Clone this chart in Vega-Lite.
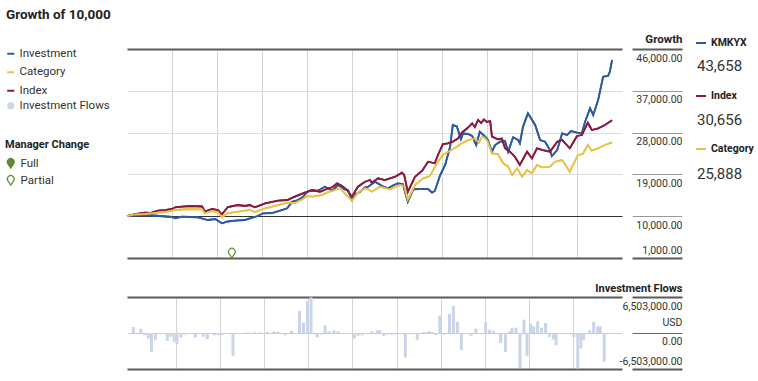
{
  "$schema": "https://vega.github.io/schema/vega-lite/v6.json",
  "autosize": {"type": "none"},
  "padding": {"left": 127, "top": 49, "right": 631, "bottom": 332},
  "background": "white",
  "config": {
    "font": "Roboto, 'Liberation Sans', sans-serif",
    "view": {"stroke": null},
    "concat": {"spacing": 21}
  },
  "title": {"text": "Growth of 10,000", "anchor": "start", "frame": "group", "fontSize": 13.5, "fontWeight": "bold", "color": "#222222", "dx": -121, "dy": -8},
  "datasets": {
    "summary": [
      {"series": "Investment", "ticker": "KMKYX", "final": 43658},
      {"series": "Index", "ticker": "Index", "final": 30656},
      {"series": "Category", "ticker": "Category", "final": 25888}
    ],
    "managers": [{"t": 2.33, "change": "Partial"}],
    "lines": [
      {"series": "Investment", "t": 0, "value": 10000},
      {"series": "Investment", "t": 0.29, "value": 10260},
      {"series": "Investment", "t": 0.51, "value": 10200},
      {"series": "Investment", "t": 0.73, "value": 10040},
      {"series": "Investment", "t": 1.0, "value": 9830},
      {"series": "Investment", "t": 1.07, "value": 9550},
      {"series": "Investment", "t": 1.22, "value": 9890},
      {"series": "Investment", "t": 1.4, "value": 9830},
      {"series": "Investment", "t": 1.58, "value": 9760},
      {"series": "Investment", "t": 1.8, "value": 9180},
      {"series": "Investment", "t": 1.96, "value": 9400},
      {"series": "Investment", "t": 2.11, "value": 8470},
      {"series": "Investment", "t": 2.24, "value": 8860},
      {"series": "Investment", "t": 2.4, "value": 9030},
      {"series": "Investment", "t": 2.62, "value": 9180},
      {"series": "Investment", "t": 2.73, "value": 9550},
      {"series": "Investment", "t": 2.91, "value": 10040},
      {"series": "Investment", "t": 3.02, "value": 10620},
      {"series": "Investment", "t": 3.22, "value": 10690},
      {"series": "Investment", "t": 3.44, "value": 11330},
      {"series": "Investment", "t": 3.56, "value": 11700},
      {"series": "Investment", "t": 3.67, "value": 13120},
      {"series": "Investment", "t": 3.8, "value": 13490},
      {"series": "Investment", "t": 3.91, "value": 14130},
      {"series": "Investment", "t": 4.0, "value": 15270},
      {"series": "Investment", "t": 4.11, "value": 15430},
      {"series": "Investment", "t": 4.24, "value": 15490},
      {"series": "Investment", "t": 4.4, "value": 16350},
      {"series": "Investment", "t": 4.56, "value": 15490},
      {"series": "Investment", "t": 4.69, "value": 16720},
      {"series": "Investment", "t": 4.84, "value": 15790},
      {"series": "Investment", "t": 4.91, "value": 15640},
      {"series": "Investment", "t": 5.0, "value": 13490},
      {"series": "Investment", "t": 5.09, "value": 14780},
      {"series": "Investment", "t": 5.18, "value": 15270},
      {"series": "Investment", "t": 5.29, "value": 16220},
      {"series": "Investment", "t": 5.36, "value": 16350},
      {"series": "Investment", "t": 5.51, "value": 17430},
      {"series": "Investment", "t": 5.67, "value": 16500},
      {"series": "Investment", "t": 5.8, "value": 16010},
      {"series": "Investment", "t": 5.93, "value": 16720},
      {"series": "Investment", "t": 6.02, "value": 17080},
      {"series": "Investment", "t": 6.13, "value": 16930},
      {"series": "Investment", "t": 6.24, "value": 13120},
      {"series": "Investment", "t": 6.36, "value": 15790},
      {"series": "Investment", "t": 6.47, "value": 15860},
      {"series": "Investment", "t": 6.56, "value": 15860},
      {"series": "Investment", "t": 6.69, "value": 15860},
      {"series": "Investment", "t": 6.78, "value": 15060},
      {"series": "Investment", "t": 6.84, "value": 15430},
      {"series": "Investment", "t": 6.96, "value": 18870},
      {"series": "Investment", "t": 7.07, "value": 21020},
      {"series": "Investment", "t": 7.18, "value": 24960},
      {"series": "Investment", "t": 7.24, "value": 29640},
      {"series": "Investment", "t": 7.33, "value": 29310},
      {"series": "Investment", "t": 7.42, "value": 26620},
      {"series": "Investment", "t": 7.47, "value": 27810},
      {"series": "Investment", "t": 7.58, "value": 27700},
      {"series": "Investment", "t": 7.67, "value": 27270},
      {"series": "Investment", "t": 7.76, "value": 25330},
      {"series": "Investment", "t": 7.84, "value": 28190},
      {"series": "Investment", "t": 7.96, "value": 27120},
      {"series": "Investment", "t": 8.02, "value": 26410},
      {"series": "Investment", "t": 8.11, "value": 23890},
      {"series": "Investment", "t": 8.18, "value": 25330},
      {"series": "Investment", "t": 8.29, "value": 26040},
      {"series": "Investment", "t": 8.4, "value": 26190},
      {"series": "Investment", "t": 8.47, "value": 23890},
      {"series": "Investment", "t": 8.58, "value": 26990},
      {"series": "Investment", "t": 8.69, "value": 26410},
      {"series": "Investment", "t": 8.73, "value": 25700},
      {"series": "Investment", "t": 8.8, "value": 29270},
      {"series": "Investment", "t": 8.91, "value": 32150},
      {"series": "Investment", "t": 9.07, "value": 29640},
      {"series": "Investment", "t": 9.18, "value": 26410},
      {"series": "Investment", "t": 9.29, "value": 26040},
      {"series": "Investment", "t": 9.4, "value": 24250},
      {"series": "Investment", "t": 9.44, "value": 22960},
      {"series": "Investment", "t": 9.56, "value": 24250},
      {"series": "Investment", "t": 9.67, "value": 27850},
      {"series": "Investment", "t": 9.78, "value": 27480},
      {"series": "Investment", "t": 9.87, "value": 28340},
      {"series": "Investment", "t": 10.0, "value": 27980},
      {"series": "Investment", "t": 10.11, "value": 27910},
      {"series": "Investment", "t": 10.18, "value": 30350},
      {"series": "Investment", "t": 10.29, "value": 33230},
      {"series": "Investment", "t": 10.36, "value": 31790},
      {"series": "Investment", "t": 10.47, "value": 35020},
      {"series": "Investment", "t": 10.58, "value": 40030},
      {"series": "Investment", "t": 10.69, "value": 40190},
      {"series": "Investment", "t": 10.73, "value": 41110},
      {"series": "Investment", "t": 10.78, "value": 43658},
      {"series": "Index", "t": 0, "value": 10000},
      {"series": "Index", "t": 0.18, "value": 10470},
      {"series": "Index", "t": 0.4, "value": 10750},
      {"series": "Index", "t": 0.51, "value": 10690},
      {"series": "Index", "t": 0.69, "value": 11180},
      {"series": "Index", "t": 0.84, "value": 11330},
      {"series": "Index", "t": 1.0, "value": 11550},
      {"series": "Index", "t": 1.07, "value": 11920},
      {"series": "Index", "t": 1.22, "value": 12050},
      {"series": "Index", "t": 1.44, "value": 12200},
      {"series": "Index", "t": 1.67, "value": 12090},
      {"series": "Index", "t": 1.73, "value": 10970},
      {"series": "Index", "t": 1.89, "value": 11550},
      {"series": "Index", "t": 2.02, "value": 11330},
      {"series": "Index", "t": 2.11, "value": 10410},
      {"series": "Index", "t": 2.24, "value": 11980},
      {"series": "Index", "t": 2.47, "value": 12410},
      {"series": "Index", "t": 2.62, "value": 12200},
      {"series": "Index", "t": 2.73, "value": 12410},
      {"series": "Index", "t": 2.84, "value": 11920},
      {"series": "Index", "t": 3.07, "value": 12780},
      {"series": "Index", "t": 3.36, "value": 13340},
      {"series": "Index", "t": 3.56, "value": 13490},
      {"series": "Index", "t": 3.73, "value": 14200},
      {"series": "Index", "t": 3.91, "value": 14930},
      {"series": "Index", "t": 4.11, "value": 15640},
      {"series": "Index", "t": 4.29, "value": 15270},
      {"series": "Index", "t": 4.44, "value": 15860},
      {"series": "Index", "t": 4.56, "value": 16220},
      {"series": "Index", "t": 4.67, "value": 17080},
      {"series": "Index", "t": 4.78, "value": 16500},
      {"series": "Index", "t": 4.89, "value": 15640},
      {"series": "Index", "t": 5.0, "value": 14200},
      {"series": "Index", "t": 5.13, "value": 16350},
      {"series": "Index", "t": 5.29, "value": 17430},
      {"series": "Index", "t": 5.4, "value": 17790},
      {"series": "Index", "t": 5.44, "value": 17210},
      {"series": "Index", "t": 5.58, "value": 18160},
      {"series": "Index", "t": 5.73, "value": 17790},
      {"series": "Index", "t": 5.96, "value": 18500},
      {"series": "Index", "t": 6.11, "value": 19370},
      {"series": "Index", "t": 6.16, "value": 18870},
      {"series": "Index", "t": 6.24, "value": 15210},
      {"series": "Index", "t": 6.4, "value": 18500},
      {"series": "Index", "t": 6.56, "value": 19800},
      {"series": "Index", "t": 6.69, "value": 21730},
      {"series": "Index", "t": 6.84, "value": 21390},
      {"series": "Index", "t": 6.91, "value": 23180},
      {"series": "Index", "t": 7.02, "value": 25540},
      {"series": "Index", "t": 7.13, "value": 25700},
      {"series": "Index", "t": 7.24, "value": 26040},
      {"series": "Index", "t": 7.36, "value": 26770},
      {"series": "Index", "t": 7.44, "value": 27980},
      {"series": "Index", "t": 7.56, "value": 28930},
      {"series": "Index", "t": 7.67, "value": 30000},
      {"series": "Index", "t": 7.73, "value": 29200},
      {"series": "Index", "t": 7.8, "value": 30710},
      {"series": "Index", "t": 7.87, "value": 30070},
      {"series": "Index", "t": 7.93, "value": 30820},
      {"series": "Index", "t": 8.0, "value": 30280},
      {"series": "Index", "t": 8.07, "value": 30500},
      {"series": "Index", "t": 8.11, "value": 27120},
      {"series": "Index", "t": 8.24, "value": 26560},
      {"series": "Index", "t": 8.33, "value": 26730},
      {"series": "Index", "t": 8.4, "value": 24620},
      {"series": "Index", "t": 8.51, "value": 23890},
      {"series": "Index", "t": 8.62, "value": 22810},
      {"series": "Index", "t": 8.73, "value": 21020},
      {"series": "Index", "t": 8.89, "value": 23890},
      {"series": "Index", "t": 9.0, "value": 22470},
      {"series": "Index", "t": 9.11, "value": 24620},
      {"series": "Index", "t": 9.24, "value": 24250},
      {"series": "Index", "t": 9.4, "value": 23890},
      {"series": "Index", "t": 9.56, "value": 26040},
      {"series": "Index", "t": 9.67, "value": 26410},
      {"series": "Index", "t": 9.84, "value": 24620},
      {"series": "Index", "t": 10.0, "value": 27270},
      {"series": "Index", "t": 10.11, "value": 27480},
      {"series": "Index", "t": 10.24, "value": 30130},
      {"series": "Index", "t": 10.33, "value": 28560},
      {"series": "Index", "t": 10.47, "value": 28930},
      {"series": "Index", "t": 10.62, "value": 29640},
      {"series": "Index", "t": 10.78, "value": 30656},
      {"series": "Category", "t": 0, "value": 10000},
      {"series": "Category", "t": 0.18, "value": 10370},
      {"series": "Category", "t": 0.4, "value": 10470},
      {"series": "Category", "t": 0.69, "value": 10750},
      {"series": "Category", "t": 0.84, "value": 10900},
      {"series": "Category", "t": 1.07, "value": 11330},
      {"series": "Category", "t": 1.22, "value": 11440},
      {"series": "Category", "t": 1.44, "value": 11550},
      {"series": "Category", "t": 1.67, "value": 11490},
      {"series": "Category", "t": 1.73, "value": 10620},
      {"series": "Category", "t": 1.89, "value": 11120},
      {"series": "Category", "t": 2.02, "value": 10900},
      {"series": "Category", "t": 2.11, "value": 9760},
      {"series": "Category", "t": 2.24, "value": 10690},
      {"series": "Category", "t": 2.47, "value": 10970},
      {"series": "Category", "t": 2.62, "value": 11180},
      {"series": "Category", "t": 2.73, "value": 11330},
      {"series": "Category", "t": 2.84, "value": 10900},
      {"series": "Category", "t": 3.07, "value": 11700},
      {"series": "Category", "t": 3.36, "value": 12410},
      {"series": "Category", "t": 3.56, "value": 12910},
      {"series": "Category", "t": 3.73, "value": 12840},
      {"series": "Category", "t": 3.91, "value": 13700},
      {"series": "Category", "t": 4.0, "value": 14350},
      {"series": "Category", "t": 4.11, "value": 14200},
      {"series": "Category", "t": 4.33, "value": 14560},
      {"series": "Category", "t": 4.44, "value": 15060},
      {"series": "Category", "t": 4.62, "value": 15640},
      {"series": "Category", "t": 4.73, "value": 16070},
      {"series": "Category", "t": 4.84, "value": 14930},
      {"series": "Category", "t": 5.0, "value": 13340},
      {"series": "Category", "t": 5.13, "value": 15060},
      {"series": "Category", "t": 5.29, "value": 16010},
      {"series": "Category", "t": 5.36, "value": 15790},
      {"series": "Category", "t": 5.44, "value": 15270},
      {"series": "Category", "t": 5.62, "value": 16350},
      {"series": "Category", "t": 5.84, "value": 15790},
      {"series": "Category", "t": 6.07, "value": 16720},
      {"series": "Category", "t": 6.16, "value": 16500},
      {"series": "Category", "t": 6.24, "value": 13490},
      {"series": "Category", "t": 6.4, "value": 16720},
      {"series": "Category", "t": 6.58, "value": 18160},
      {"series": "Category", "t": 6.73, "value": 18660},
      {"series": "Category", "t": 6.89, "value": 21390},
      {"series": "Category", "t": 7.02, "value": 23180},
      {"series": "Category", "t": 7.18, "value": 24100},
      {"series": "Category", "t": 7.33, "value": 24960},
      {"series": "Category", "t": 7.44, "value": 25700},
      {"series": "Category", "t": 7.56, "value": 26260},
      {"series": "Category", "t": 7.67, "value": 26620},
      {"series": "Category", "t": 7.73, "value": 26770},
      {"series": "Category", "t": 7.82, "value": 25820},
      {"series": "Category", "t": 7.89, "value": 27120},
      {"series": "Category", "t": 7.96, "value": 26770},
      {"series": "Category", "t": 8.02, "value": 26040},
      {"series": "Category", "t": 8.11, "value": 23540},
      {"series": "Category", "t": 8.24, "value": 23390},
      {"series": "Category", "t": 8.36, "value": 21390},
      {"series": "Category", "t": 8.47, "value": 20660},
      {"series": "Category", "t": 8.56, "value": 18870},
      {"series": "Category", "t": 8.67, "value": 20310},
      {"series": "Category", "t": 8.78, "value": 18500},
      {"series": "Category", "t": 8.89, "value": 19950},
      {"series": "Category", "t": 9.0, "value": 19240},
      {"series": "Category", "t": 9.11, "value": 21020},
      {"series": "Category", "t": 9.22, "value": 20530},
      {"series": "Category", "t": 9.4, "value": 20660},
      {"series": "Category", "t": 9.51, "value": 21730},
      {"series": "Category", "t": 9.67, "value": 22100},
      {"series": "Category", "t": 9.84, "value": 19580},
      {"series": "Category", "t": 10.02, "value": 23180},
      {"series": "Category", "t": 10.13, "value": 23390},
      {"series": "Category", "t": 10.24, "value": 25330},
      {"series": "Category", "t": 10.33, "value": 24100},
      {"series": "Category", "t": 10.47, "value": 24620},
      {"series": "Category", "t": 10.62, "value": 25330},
      {"series": "Category", "t": 10.78, "value": 25888}
    ],
    "flows": [
      {"series": "Investment Flows", "t": 0.03, "flow": 1070000}, {"series": "Investment Flows", "t": 0.2, "flow": 770000}, {"series": "Investment Flows", "t": 0.29, "flow": -400000},
      {"series": "Investment Flows", "t": 0.37, "flow": -1000000}, {"series": "Investment Flows", "t": 0.44, "flow": -3400000}, {"series": "Investment Flows", "t": 0.53, "flow": -1300000},
      {"series": "Investment Flows", "t": 0.62, "flow": -200000}, {"series": "Investment Flows", "t": 0.8, "flow": -1400000}, {"series": "Investment Flows", "t": 0.88, "flow": -700000},
      {"series": "Investment Flows", "t": 0.96, "flow": -1600000}, {"series": "Investment Flows", "t": 1.02, "flow": -2000000}, {"series": "Investment Flows", "t": 1.11, "flow": -800000},
      {"series": "Investment Flows", "t": 1.2, "flow": -300000}, {"series": "Investment Flows", "t": 1.29, "flow": -200000}, {"series": "Investment Flows", "t": 1.44, "flow": -800000},
      {"series": "Investment Flows", "t": 1.53, "flow": -200000}, {"series": "Investment Flows", "t": 1.62, "flow": -700000}, {"series": "Investment Flows", "t": 1.71, "flow": -1100000},
      {"series": "Investment Flows", "t": 1.87, "flow": -400000}, {"series": "Investment Flows", "t": 1.96, "flow": -400000}, {"series": "Investment Flows", "t": 2.04, "flow": -400000},
      {"series": "Investment Flows", "t": 2.29, "flow": -4150000}, {"series": "Investment Flows", "t": 2.44, "flow": -100000}, {"series": "Investment Flows", "t": 2.62, "flow": 100000},
      {"series": "Investment Flows", "t": 2.78, "flow": 150000}, {"series": "Investment Flows", "t": 2.91, "flow": 100000}, {"series": "Investment Flows", "t": 3.07, "flow": 200000},
      {"series": "Investment Flows", "t": 3.22, "flow": 300000}, {"series": "Investment Flows", "t": 3.31, "flow": 200000}, {"series": "Investment Flows", "t": 3.47, "flow": -400000},
      {"series": "Investment Flows", "t": 3.62, "flow": 400000}, {"series": "Investment Flows", "t": 3.8, "flow": 4000000}, {"series": "Investment Flows", "t": 3.89, "flow": 1850000},
      {"series": "Investment Flows", "t": 3.98, "flow": 5800000}, {"series": "Investment Flows", "t": 4.06, "flow": 6450000}, {"series": "Investment Flows", "t": 4.2, "flow": -800000},
      {"series": "Investment Flows", "t": 4.29, "flow": -300000}, {"series": "Investment Flows", "t": 4.38, "flow": 1400000}, {"series": "Investment Flows", "t": 4.47, "flow": 300000},
      {"series": "Investment Flows", "t": 4.58, "flow": 500000}, {"series": "Investment Flows", "t": 4.67, "flow": 300000}, {"series": "Investment Flows", "t": 4.84, "flow": -200000},
      {"series": "Investment Flows", "t": 4.96, "flow": -200000}, {"series": "Investment Flows", "t": 5.04, "flow": -1000000}, {"series": "Investment Flows", "t": 5.13, "flow": -500000},
      {"series": "Investment Flows", "t": 5.22, "flow": -400000}, {"series": "Investment Flows", "t": 5.31, "flow": -200000}, {"series": "Investment Flows", "t": 5.44, "flow": 300000},
      {"series": "Investment Flows", "t": 5.56, "flow": 500000}, {"series": "Investment Flows", "t": 5.62, "flow": 500000}, {"series": "Investment Flows", "t": 5.71, "flow": -600000},
      {"series": "Investment Flows", "t": 5.8, "flow": -300000}, {"series": "Investment Flows", "t": 5.89, "flow": -300000}, {"series": "Investment Flows", "t": 5.98, "flow": -300000},
      {"series": "Investment Flows", "t": 6.2, "flow": -4450000}, {"series": "Investment Flows", "t": 6.31, "flow": -200000}, {"series": "Investment Flows", "t": 6.47, "flow": -1300000},
      {"series": "Investment Flows", "t": 6.62, "flow": 200000}, {"series": "Investment Flows", "t": 6.73, "flow": 300000}, {"series": "Investment Flows", "t": 6.8, "flow": 200000},
      {"series": "Investment Flows", "t": 6.89, "flow": -400000}, {"series": "Investment Flows", "t": 6.98, "flow": 3150000}, {"series": "Investment Flows", "t": 7.07, "flow": -300000},
      {"series": "Investment Flows", "t": 7.2, "flow": 3450000}, {"series": "Investment Flows", "t": 7.29, "flow": 4900000}, {"series": "Investment Flows", "t": 7.38, "flow": 2000000},
      {"series": "Investment Flows", "t": 7.47, "flow": -3100000}, {"series": "Investment Flows", "t": 7.56, "flow": -100000}, {"series": "Investment Flows", "t": 7.69, "flow": -500000},
      {"series": "Investment Flows", "t": 7.8, "flow": 800000}, {"series": "Investment Flows", "t": 8.02, "flow": 2000000}, {"series": "Investment Flows", "t": 8.11, "flow": 600000},
      {"series": "Investment Flows", "t": 8.2, "flow": 400000}, {"series": "Investment Flows", "t": 8.29, "flow": -200000}, {"series": "Investment Flows", "t": 8.36, "flow": -1800000},
      {"series": "Investment Flows", "t": 8.47, "flow": -3400000}, {"series": "Investment Flows", "t": 8.56, "flow": 300000}, {"series": "Investment Flows", "t": 8.62, "flow": 950000},
      {"series": "Investment Flows", "t": 8.71, "flow": 950000}, {"series": "Investment Flows", "t": 8.8, "flow": -6400000}, {"series": "Investment Flows", "t": 8.89, "flow": 2400000},
      {"series": "Investment Flows", "t": 8.96, "flow": -4200000}, {"series": "Investment Flows", "t": 9.04, "flow": 1700000}, {"series": "Investment Flows", "t": 9.11, "flow": 1200000},
      {"series": "Investment Flows", "t": 9.2, "flow": 2100000}, {"series": "Investment Flows", "t": 9.29, "flow": 950000}, {"series": "Investment Flows", "t": 9.38, "flow": 1800000},
      {"series": "Investment Flows", "t": 9.47, "flow": -700000}, {"series": "Investment Flows", "t": 9.56, "flow": -1200000}, {"series": "Investment Flows", "t": 9.62, "flow": -2200000},
      {"series": "Investment Flows", "t": 9.76, "flow": -200000}, {"series": "Investment Flows", "t": 10.02, "flow": -700000}, {"series": "Investment Flows", "t": 10.11, "flow": -6400000},
      {"series": "Investment Flows", "t": 10.18, "flow": -2800000}, {"series": "Investment Flows", "t": 10.24, "flow": -1300000}, {"series": "Investment Flows", "t": 10.38, "flow": 500000},
      {"series": "Investment Flows", "t": 10.47, "flow": 2000000}, {"series": "Investment Flows", "t": 10.56, "flow": 1200000}, {"series": "Investment Flows", "t": 10.62, "flow": 1200000},
      {"series": "Investment Flows", "t": 10.71, "flow": -5200000}
    ]
  },
  "vconcat": [
    {
      "width": 495,
      "height": 209,
      "layer": [
        {
          "data": {"name": "lines"},
          "mark": {"type": "line", "strokeWidth": 1.8},
          "encoding": {
            "x": {
              "field": "t", "type": "quantitative",
              "scale": {"domain": [0, 11], "nice": false, "zero": false},
              "axis": {"orient": "bottom", "values": [1, 2, 3, 4, 5, 6, 7, 8, 9, 10], "grid": true, "gridColor": "#d4d4d4", "gridWidth": 1, "labels": false, "ticks": false, "domain": false, "title": null}
            },
            "y": {
              "field": "value", "type": "quantitative",
              "scale": {"domain": [1000, 46000], "nice": false, "zero": false},
              "axis": {
                "orient": "right", "offset": 10,
                "values": [1000, 10000, 19000, 28000, 37000, 46000],
                "format": ",.2f",
                "domain": false,
                "grid": true,
                "gridColor": {"condition": [{"test": "datum.value === 10000", "value": "#333333"}, {"test": "datum.value === 1000 || datum.value === 46000", "value": "#5a5a5a"}], "value": "#dddddd"},
                "gridWidth": {"condition": {"test": "datum.value === 1000 || datum.value === 46000", "value": 2}, "value": 1},
                "ticks": true, "tickSize": 50,
                "tickColor": {"condition": {"test": "datum.value === 1000 || datum.value === 46000", "value": "#5a5a5a"}, "value": "#9a9a9a"},
                "tickWidth": {"condition": {"test": "datum.value === 1000 || datum.value === 46000", "value": 2}, "value": 1},
                "labelAlign": "right", "labelPadding": 0, "labelBaseline": "middle", "labelOverlap": false,
                "labelOffset": {"condition": {"test": "datum.value === 1000", "value": -8}, "value": 9},
                "labelFontSize": 10.5, "labelColor": "#333333",
                "title": "Growth", "titleAngle": 0, "titleAlign": "right", "titleBaseline": "middle",
                "titleX": 50, "titleY": -10, "titleFontSize": 11.5, "titleFontWeight": "bold", "titleColor": "#222222"
              }
            },
            "color": {
              "field": "series", "type": "nominal",
              "scale": {"domain": ["Investment", "Category", "Index"], "range": ["#2f5a9c", "#e8c34a", "#8b1a3e"]},
              "legend": {
                "title": null, "orient": "none", "legendX": -122, "legendY": -1,
                "symbolType": "stroke", "symbolSize": 49, "symbolStrokeWidth": 2, "labelFontSize": 11.5, "labelColor": "#333333",
                "labelOffset": 3, "rowPadding": 5.5, "labelLimit": 200
              }
            }
          }
        },
        {
          "data": {"name": "lines"},
          "transform": [
            {"lookup": "series", "from": {"data": {"name": "summary"}, "key": "series", "fields": ["ticker", "final"]}}
          ],
          "mark": {"type": "line"},
          "encoding": {
            "x": {"field": "t", "type": "quantitative"},
            "y": {"field": "value", "type": "quantitative"},
            "stroke": {
              "field": "ticker", "type": "nominal",
              "scale": {"domain": ["KMKYX", "Index", "Category"], "range": ["#2f5a9c", "#8b1a3e", "#e8c34a"]},
              "legend": {
                "title": null, "orient": "none", "legendX": 568, "legendY": -12,
                "symbolType": "stroke", "symbolSize": 100, "symbolStrokeWidth": 2,
                "labelFontSize": 10.5, "labelFontWeight": "bold", "labelColor": "#222222",
                "labelOffset": 4, "rowPadding": 41
              }
            },
            "strokeWidth": {
              "field": "final", "type": "ordinal", "sort": "descending",
              "scale": {"range": [1.8, 1.8]},
              "legend": {
                "title": null, "orient": "none", "legendX": 555, "legendY": 9,
                "symbolSize": 0, "symbolOpacity": 0, "labelOffset": 0,
                "labelFontSize": 15, "labelColor": "#333333", "rowPadding": 38,
                "labelExpr": "format(datum.value, ',')"
              }
            }
          }
        },
        {
          "data": {"name": "managers"},
          "mark": {"type": "point", "shape": "M0,0 L-0.7,-1.1 A0.85,0.85 0 1,1 0.7,-1.1 Z", "size": 64, "filled": true, "stroke": "#5e8c31", "strokeWidth": 1.2, "opacity": 1},
          "encoding": {
            "x": {"field": "t", "type": "quantitative"},
            "y": {"datum": 1000},
            "fill": {
              "field": "change", "type": "nominal",
              "scale": {"domain": ["Full", "Partial"], "range": ["#5e8c31", "#ffffff"]},
              "legend": {
                "title": "Manager Change", "orient": "none", "legendX": -122, "legendY": 90,
                "titleFontSize": 11, "titleFontWeight": "bold", "titleColor": "#222222", "titlePadding": 8,
                "symbolType": "M0,1.1 L-0.7,0.05 A0.85,0.85 0 1,1 0.7,0.05 Z", "symbolSize": 64,
                "symbolStrokeColor": "#5e8c31", "symbolStrokeWidth": 1.2,
                "labelFontSize": 11.5, "labelColor": "#333333", "labelOffset": 4, "rowPadding": 2
              }
            }
          }
        }
      ]
    },
    {
      "width": 495,
      "height": 72,
      "data": {"name": "flows"},
      "mark": {"type": "bar", "size": 3, "color": "#cbd5e8"},
      "encoding": {
        "x": {
          "field": "t", "type": "quantitative",
          "scale": {"domain": [0, 11], "nice": false, "zero": false},
          "axis": {"orient": "bottom", "values": [1, 2, 3, 4, 5, 6, 7, 8, 9, 10], "grid": true, "gridColor": "#d4d4d4", "gridWidth": 1, "labels": false, "ticks": false, "domain": false, "title": null}
        },
        "y": {
          "field": "flow", "type": "quantitative",
          "scale": {"domain": [-6503000, 6503000], "nice": false},
          "axis": {
            "orient": "right", "offset": 10,
            "values": [-6503000, 0, 6503000],
            "domain": false,
            "grid": true,
            "gridColor": {"condition": {"test": "datum.value === 0", "value": "#cccccc"}, "value": "#5a5a5a"},
            "gridWidth": {"condition": {"test": "datum.value === 0", "value": 1}, "value": 2},
            "ticks": true, "tickSize": 50,
            "tickColor": {"condition": {"test": "datum.value === 0", "value": "#666666"}, "value": "#5a5a5a"},
            "tickWidth": {"condition": {"test": "datum.value === 0", "value": 1}, "value": 2},
            "labelAlign": "right", "labelPadding": 0, "labelBaseline": "middle", "labelOverlap": false,
            "labelOffset": {"condition": [{"test": "datum.value > 0", "value": 9}, {"test": "datum.value === 0", "value": -11}], "value": -8},
            "labelLineHeight": 19,
            "labelExpr": "datum.value === 0 ? ['USD', '0.00'] : replace(format(datum.value, ',.2f'), '\u2212', '-')",
            "labelFontSize": 10.5, "labelColor": "#333333",
            "title": "Investment Flows", "titleAngle": 0, "titleAlign": "right", "titleBaseline": "middle",
            "titleX": 50, "titleY": -9, "titleFontSize": 11, "titleFontWeight": "bold", "titleColor": "#222222"
          }
        },
        "opacity": {
          "field": "series", "type": "nominal",
          "scale": {"domain": ["Investment Flows"], "range": [1]},
          "legend": {
            "title": null, "orient": "none", "legendX": -122, "legendY": 51,
            "symbolType": "circle", "symbolSize": 50, "symbolFillColor": "#d3dbea", "symbolStrokeColor": "#d3dbea", "symbolStrokeWidth": 0,
            "labelFontSize": 11.5, "labelColor": "#333333", "labelOffset": 3
          }
        }
      }
    }
  ]
}
